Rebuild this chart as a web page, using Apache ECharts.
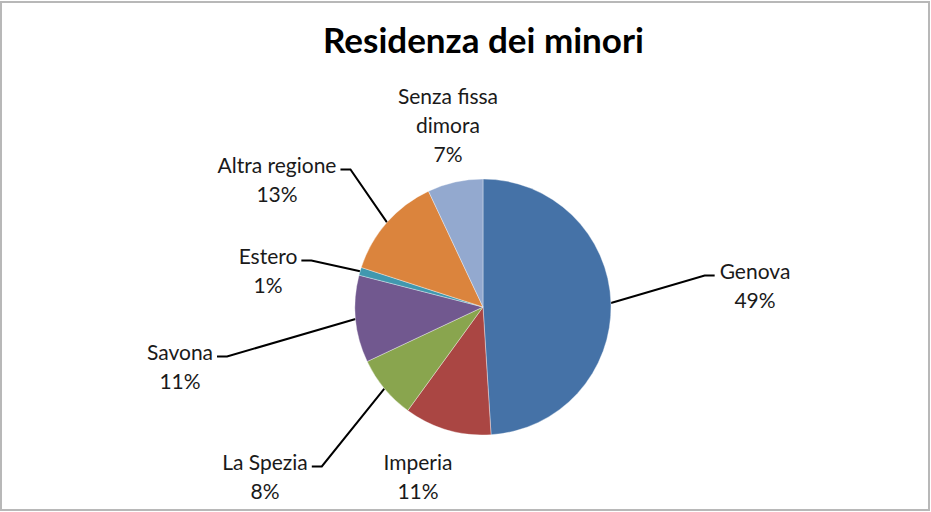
<!DOCTYPE html>
<html>
<head>
<meta charset="utf-8">
<script src="https://cdn.jsdelivr.net/npm/echarts@6/dist/echarts.min.js"></script>
<style>
  html, body { margin: 0; padding: 0; background: #fff; }
  #chart { width: 931px; height: 512px; }
</style>
</head>
<body>
<div id="chart"></div>
<script>
// Residenza dei minori (percentuali)
var categories = ['Genova', 'Imperia', 'La Spezia', 'Savona', 'Estero', 'Altra regione', 'Senza fissa\ndimora'];
var percent = [49, 11, 8, 11, 1, 13, 7];
var colors = ['#4572A7', '#AA4643', '#89A54E', '#71588F', '#4198AF', '#DB843D', '#93A9CF'];

// dove stanno le etichette (centro del blocco di testo) e se hanno la linea guida
var labelSpots = [[755, 285], [418, 476], [265, 476], [180, 366], [268, 270], [277, 179], [448, 124]];
var showLine = [true, false, true, true, true, true, false];

var LINE_H = 29;

var chart = echarts.init(document.getElementById('chart'), null, {renderer: 'svg'});

var data = categories.map(function (name, i) {
  return {
    name: name,
    value: percent[i],
    itemStyle: {color: colors[i]},
    labelLine: {show: showLine[i]}
  };
});

chart.setOption({
  animation: false,
  title: {
    text: 'Residenza dei minori',
    left: 318,
    top: 16,
    textStyle: {fontFamily: 'Lato', fontWeight: 'bold', fontSize: 35, color: '#000'}
  },
  graphic: [{
    type: 'rect',
    shape: {x: 1, y: 2, width: 928, height: 508},
    style: {fill: null, stroke: '#b8b8b8', lineWidth: 2}
  }],
  series: [{
    type: 'pie',
    center: [483, 307],
    radius: 128,
    startAngle: 90,
    clockwise: true,
    data: data,
    itemStyle: {borderColor: 'rgba(255,255,255,0.6)', borderWidth: 0.6},
    label: {
      show: true,
      formatter: function (p) { return p.name + '\n' + p.value + '%'; },
      fontFamily: 'Lato',
      fontSize: 21,
      lineHeight: LINE_H,
      color: '#1a1a1a',
      align: 'center'
    },
    labelLine: {
      lineStyle: {color: '#000', width: 2},
      length: 20,
      length2: 10
    },
    labelLayout: function (params) {
      var spot = labelSpots[params.dataIndex];
      var out = {x: spot[0], y: spot[1], align: 'center', verticalAlign: 'middle'};
      var pts = params.labelLinePoints;
      if (pts && showLine[params.dataIndex]) {
        var w = params.labelRect.width;
        var h = params.labelRect.height;
        var start = pts[0];
        var onRight = spot[0] > start[0];
        var edgeX = onRight ? spot[0] - w / 2 - 5 : spot[0] + w / 2 + 4;
        var rowY = spot[1] - h / 2 + LINE_H / 2 + 5;
        var elbowX = onRight ? edgeX - 10 : edgeX + 10;
        out.labelLinePoints = [start, [elbowX, rowY], [edgeX, rowY]];
      }
      return out;
    }
  }]
});
</script>
</body>
</html>
